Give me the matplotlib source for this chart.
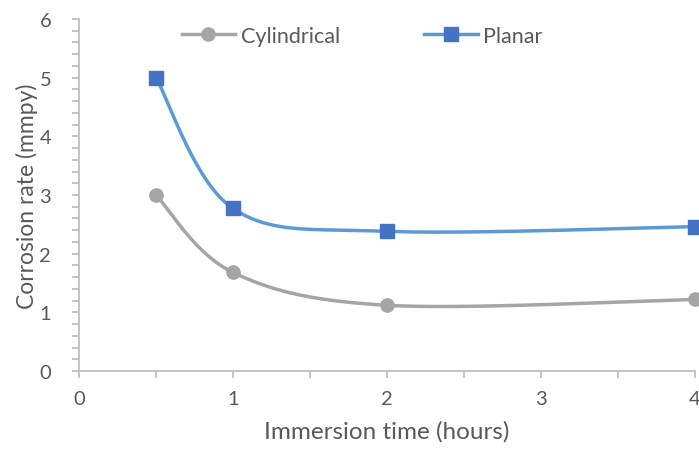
import numpy as np
import matplotlib.pyplot as plt
from matplotlib.ticker import MultipleLocator

hours = [0.5, 1, 2, 4]
cylindrical = [3.0, 1.68, 1.12, 1.22]
planar = [5.0, 2.77, 2.38, 2.46]

plt.rcParams["font.family"] = ["Lato", "DejaVu Sans"]
text_color = "#595959"
axis_color = "#BFBFBF"


def smooth_curve(xs, ys, n=60):
    # Bezier segments with control points taken from neighbouring points
    pts = np.column_stack([xs, ys]).astype(float)
    padded = np.vstack([pts[0], pts, pts[-1]])
    out = []
    t = np.linspace(0, 1, n)[:, None]
    for i in range(len(pts) - 1):
        p0 = padded[i + 1]
        p3 = padded[i + 2]
        c1 = p0 + (padded[i + 2] - padded[i]) / 6
        c2 = p3 - (padded[i + 3] - padded[i + 1]) / 6
        seg = ((1 - t) ** 3) * p0 + 3 * ((1 - t) ** 2) * t * c1 + 3 * (1 - t) * t ** 2 * c2 + t ** 3 * p3
        out.append(seg)
    out = np.vstack(out)
    return out[:, 0], out[:, 1]


fig = plt.figure(figsize=(6.99, 4.52), dpi=100)
ax = fig.add_axes([79 / 699, 80 / 452, 616 / 699, 352 / 452])

cx, cy = smooth_curve(hours, cylindrical)
ax.plot(cx, cy, color="#A5A5A5", lw=2.5, clip_on=False, solid_capstyle="round")
ax.plot(hours, cylindrical, "o", color="#A5A5A5", ms=9.5, clip_on=False, zorder=3)

px, py = smooth_curve(hours, planar)
ax.plot(px, py, color="#5B9BD5", lw=2.5, clip_on=False, solid_capstyle="round")
ax.plot(hours, planar, "s", color="#4472C4", ms=9.5, clip_on=False, zorder=3)

# legend proxies
ax.plot([], [], color="#A5A5A5", lw=2.5, marker="o", ms=9.5, label="Cylindrical")
ax.plot([], [], color="#5B9BD5", lw=2.5, marker="s", ms=9.5, mfc="#4472C4", mec="#4472C4", label="Planar")
handles, labels = ax.get_legend_handles_labels()
fig.legend(handles, labels, loc="center", bbox_to_anchor=(362 / 699, 1 - 37 / 452), ncol=2,
           frameon=False, fontsize=15.5, handlelength=2.5, handletextpad=0.25, columnspacing=3.9,
           labelcolor=text_color)

ax.set_xlim(0, 4)
ax.set_ylim(0, 6)
ax.xaxis.set_major_locator(MultipleLocator(1))
ax.xaxis.set_minor_locator(MultipleLocator(0.5))
ax.yaxis.set_major_locator(MultipleLocator(1))
ax.yaxis.set_minor_locator(MultipleLocator(0.2))

for side in ["top", "right"]:
    ax.spines[side].set_visible(False)
for side in ["left", "bottom"]:
    ax.spines[side].set_color(axis_color)
    ax.spines[side].set_linewidth(1.3)

ax.tick_params(which="both", direction="out", color=axis_color, width=1.3, length=5,
               labelsize=14.5, labelcolor=text_color)
ax.tick_params(axis="x", pad=9)
ax.tick_params(axis="y", pad=15)

ax.set_xlabel("Immersion time (hours)", fontsize=17.5, color=text_color, labelpad=9)
ax.set_ylabel("Corrosion rate (mmpy)", fontsize=16.5, color=text_color, labelpad=1)

fig.savefig("out.png", dpi=100)
